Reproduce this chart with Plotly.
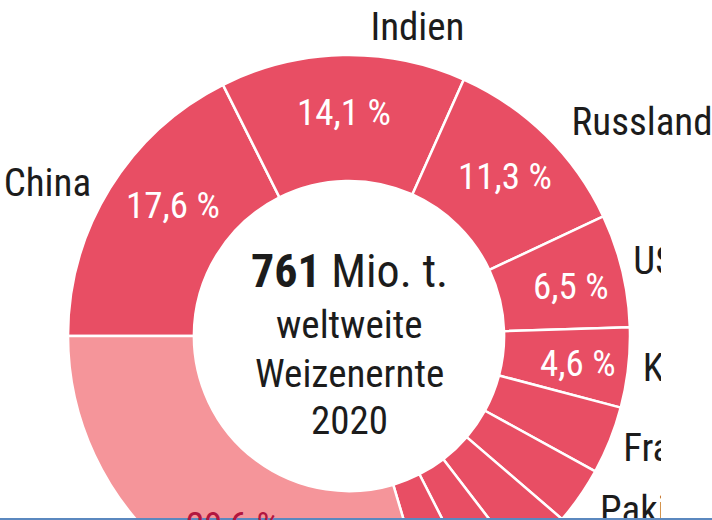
import math
import plotly.graph_objects as go

# ---------------- data ----------------
countries = ["China", "Indien", "Russland", "USA", "Kanada", "Frankreich",
             "Pakistan", "Ukraine", "Deutschland", "Türkei", "Übrige Länder"]
shares = [17.6, 14.1, 11.3, 6.5, 4.6, 3.9, 3.3, 3.3, 2.9, 2.9, 29.6]
share_labels = ["17,6 %", "14,1 %", "11,3 %", "6,5 %", "4,6 %", "", "", "", "", "", "29,6 %"]
show_name = [True] * 10 + [False]
center_lines = ["<b>761</b> Mio. t.", "weltweite", "Weizenernte", "2020"]

# ---------------- style ----------------
RED = "#E84E64"
PINK = "#F5959A"
DARK = "#1c1c1c"
REST_TXT = "#B3163F"
FONT = "Liberation Sans Narrow, Roboto Condensed, DejaVu Sans Condensed, Arial Narrow, sans-serif"
colors = [RED] * 10 + [PINK]
# label placement nudges (px: dx, dy)
name_nudge = {"China": (-2, 8), "Indien": (28, -5), "Russland": (12, 4), "USA": (-8, -2),
              "Kanada": (-5, 1), "Frankreich": (-5, 4), "Pakistan": (4, 6)}
pct_nudge = {"China": (14, -13), "Übrige Länder": (18, 10), "USA": (5, 3), "Kanada": (7, 2)}

W, H = 712, 700          # figure; page view is clipped to 520 px height
VIEW_H = 520
CLIP_X, CLIP_TOP = 661, 225   # right-hand labels below CLIP_TOP are cut at CLIP_X
left, right, top, bottom = 68, 630, 55, 617
cx, cy = (left + right) / 2, (top + bottom) / 2
R = (right - left) / 2

fig = go.Figure(go.Pie(
    labels=countries, values=shares, sort=False, direction="clockwise",
    rotation=-90, hole=0.552,
    marker=dict(colors=colors, line=dict(color="white", width=2.5)),
    textinfo="none", hoverinfo="skip", showlegend=False,
    domain=dict(x=[left / W, right / W], y=[1 - bottom / H, 1 - top / H]),
))

def px2paper(x, y):
    return x / W, 1 - y / H

annotations = []
groups = {"free": dict(x=[], y=[], t=[], p=[]), "clip": dict(x=[], y=[], t=[], p=[])}
total = sum(shares)
cum = 0.0
for name, s, lab, shown in zip(countries, shares, share_labels, show_name):
    a0 = 180 - 360 * cum / total
    a1 = a0 - 360 * s / total
    mid = math.radians((a0 + a1) / 2)
    cum += s
    if lab:
        r = 0.795 * R
        dx, dy = pct_nudge.get(name, (0, 0))
        x, y = px2paper(cx + r * math.cos(mid) + dx, cy - r * math.sin(mid) + dy)
        annotations.append(dict(x=x, y=y, xref="paper", yref="paper", text=lab,
                                showarrow=False, xanchor="center", yanchor="middle",
                                font=dict(family=FONT, size=37,
                                          color="white" if shown else REST_TXT)))
    if shown:
        r = 1.07 * R
        dx, dy = name_nudge.get(name, (0, 0))
        lx = cx + r * math.cos(mid) + dx
        ly = cy - r * math.sin(mid) + dy
        pos = "middle right" if math.cos(mid) > -0.1 else "middle left"
        g = groups["clip"] if (lx > cx and ly > CLIP_TOP) else groups["free"]
        g["x"].append(lx); g["y"].append(ly); g["t"].append(name); g["p"].append(pos)

for key, xa, ya in (("free", "x", "y"), ("clip", "x2", "y2")):
    g = groups[key]
    fig.add_trace(go.Scatter(
        x=g["x"], y=g["y"], text=g["t"], textposition=g["p"], mode="text",
        cliponaxis=True, textfont=dict(family=FONT, size=39, color=DARK),
        hoverinfo="skip", showlegend=False, xaxis=xa, yaxis=ya))

line_y = [271, 325, 374, 421]
line_size = [46, 39, 39, 39]
for txt, ly, sz in zip(center_lines, line_y, line_size):
    x, y = px2paper(cx, ly)
    annotations.append(dict(x=x, y=y, xref="paper", yref="paper", text=txt,
                            showarrow=False, xanchor="center", yanchor="middle",
                            font=dict(family=FONT, size=sz, color=DARK)))

hidden = dict(visible=False, fixedrange=True, showgrid=False, zeroline=False)
fig.update_layout(
    width=W, height=H, margin=dict(l=0, r=0, t=0, b=0),
    paper_bgcolor="white", plot_bgcolor="rgba(0,0,0,0)",
    annotations=annotations, font=dict(family=FONT),
    xaxis=dict(domain=[0, 1], range=[0, W], anchor="y", **hidden),
    yaxis=dict(domain=[0, 1], range=[H, 0], anchor="x", **hidden),
    xaxis2=dict(domain=[0, CLIP_X / W], range=[0, CLIP_X], anchor="y2", **hidden),
    yaxis2=dict(domain=[0, 1 - CLIP_TOP / H], range=[H, CLIP_TOP], anchor="x2", **hidden),
    shapes=[dict(type="line", xref="paper", yref="paper", x0=0, x1=1,
                 y0=1 - (VIEW_H - 1) / H, y1=1 - (VIEW_H - 1) / H,
                 line=dict(color="#5b88bf", width=2), layer="above")],
)

post = """
var gd = document.getElementById('{plot_id}');
document.documentElement.style.overflow = 'hidden';
document.body.style.margin = '0';
document.body.style.overflow = 'hidden';
var c = gd.parentElement;
c.style.width = '712px';
c.style.height = '520px';
c.style.overflow = 'hidden';
"""

fig.write_html("out.html", config={"displayModeBar": False}, post_script=post)
